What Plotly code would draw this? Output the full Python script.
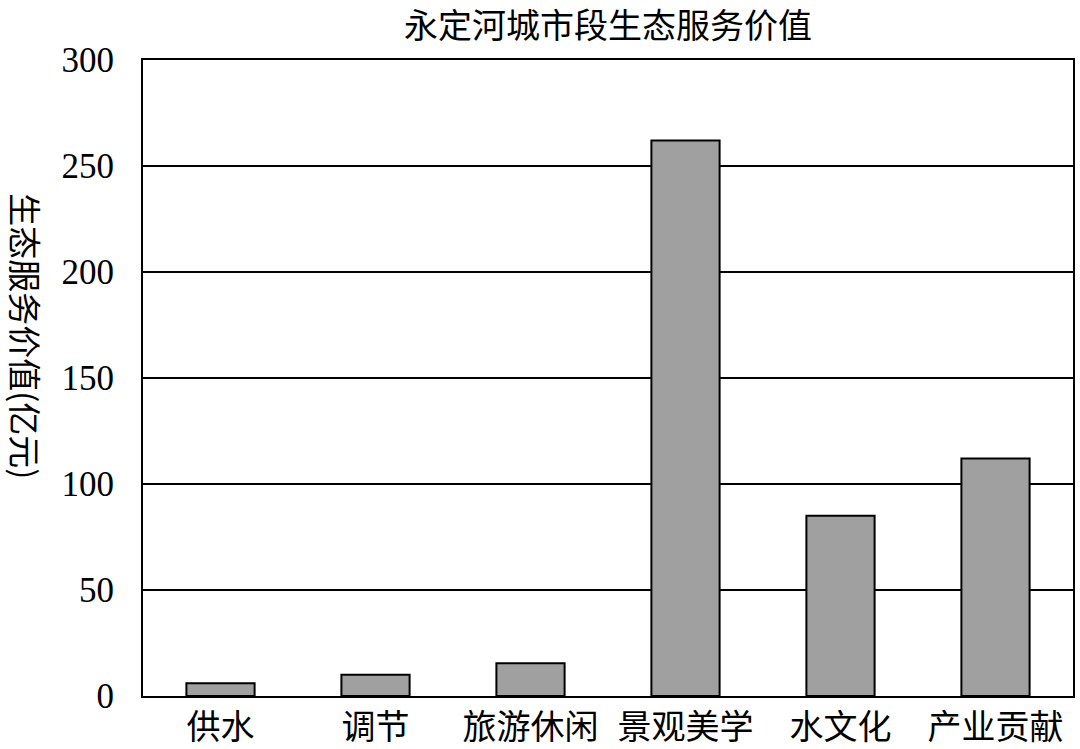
import plotly.graph_objects as go

categories = ["供水", "调节", "旅游休闲", "景观美学", "水文化", "产业贡献"]
values = [6, 10, 15.5, 262, 85, 112]
y_ticks = [0, 50, 100, 150, 200, 250, 300]

title_text = "永定河城市段生态服务价值"
ytitle_text = "生态服务价值(亿元)"

cjk = "Noto Sans CJK SC"
serif = "Liberation Serif"

fig = go.Figure(
    go.Bar(
        x=categories,
        y=values,
        marker=dict(color="#a0a0a0", line=dict(color="black", width=2)),
        width=0.44,
    )
)

fig.update_layout(
    width=1080,
    height=749,
    margin=dict(l=143, r=7, t=60, b=53, autoexpand=False),
    paper_bgcolor="white",
    plot_bgcolor="white",
    showlegend=False,
    title=dict(
        text=title_text,
        font=dict(family=cjk, size=34, color="black"),
        x=0.5,
        xref="paper",
        xanchor="center",
        y=1 - 26 / 749,
        yref="container",
        yanchor="middle",
    ),
    xaxis=dict(
        automargin=False,
        showline=True,
        linecolor="black",
        linewidth=2,
        mirror=True,
        ticks="",
        tickfont=dict(family=cjk, size=34, color="black"),
        showgrid=False,
    ),
    yaxis=dict(
        automargin=False,
        range=[0, 300],
        tickvals=y_ticks,
        showline=True,
        linecolor="black",
        linewidth=2,
        mirror=True,
        ticks="",
        showgrid=True,
        gridcolor="black",
        gridwidth=2,
        zeroline=False,
        tickfont=dict(family=serif, size=35, color="black"),
        ticklabelstandoff=20,
    ),
    annotations=[
        dict(
            text=ytitle_text,
            xref="paper",
            yref="paper",
            x=(26 - 143) / 930,
            y=(695.7 - 336) / 635.7,
            xanchor="center",
            yanchor="middle",
            showarrow=False,
            textangle=90,
            font=dict(family=cjk, size=33, color="black"),
        )
    ],
)

fig.write_html(
    "out.html",
    config={"displayModeBar": False},
    post_script="document.body.style.margin='0';",
)
